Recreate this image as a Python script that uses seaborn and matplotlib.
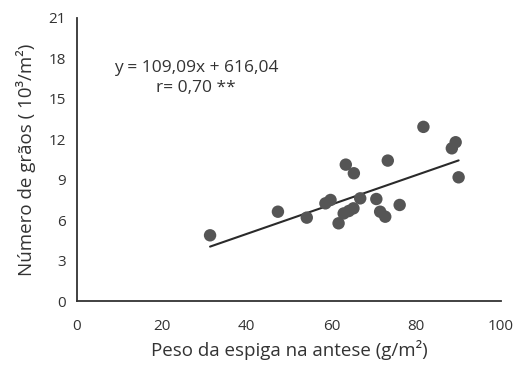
import matplotlib
matplotlib.use("Agg")
import matplotlib.pyplot as plt
import seaborn as sns
import numpy as np
import pandas as pd

peso = [31.4, 47.4, 54.2, 58.6, 59.8, 61.7, 62.9, 64.1, 65.2, 63.4, 65.3,
        66.8, 70.6, 71.5, 72.7, 73.3, 76.1, 81.7, 88.4, 89.3, 90.0]
graos = [4.88, 6.63, 6.19, 7.25, 7.5, 5.77, 6.5, 6.68, 6.88, 10.12, 9.48,
         7.62, 7.57, 6.63, 6.26, 10.42, 7.13, 12.92, 11.33, 11.78, 9.18]
slope, intercept = 109.09, 616.04  # grains/m2 per g/m2
xticks = [0, 20, 40, 60, 80, 100]
yticks = [0, 3, 6, 9, 12, 15, 18, 21]

sns.set_style("white")
plt.rcParams['font.family'] = ['Open Sans', 'DejaVu Sans']

df = pd.DataFrame({"peso": peso, "graos": graos})
xl = np.array([min(peso), max(peso)])
fit = pd.DataFrame({"x": xl, "y": (slope * xl + intercept) / 1000})

fig = plt.figure(figsize=(5.16, 3.65), dpi=100)
ax = fig.add_axes([0.149, 0.175, 0.822, 0.776])
sns.lineplot(data=fit, x="x", y="y", ax=ax, color="#2a2a2a", lw=1.5)
sns.scatterplot(data=df, x="peso", y="graos", ax=ax, s=80, color="#555555",
                edgecolor="none", zorder=3)

ax.set_xlim(0, 100)
ax.set_ylim(0, 21)
ax.set_xticks(xticks)
ax.set_yticks(yticks)
ax.set_xticklabels([str(v) for v in xticks], fontsize=11, color="#333333")
ax.set_yticklabels([str(v) for v in yticks], fontsize=11, color="#333333")
ax.tick_params(axis="x", direction="in", length=4, width=1.2, color="#333333", pad=13)
ax.tick_params(axis="y", direction="out", length=6, width=1.2, color="#333333", pad=2)
for s in ["top", "right"]:
    ax.spines[s].set_visible(False)
for s in ["left", "bottom"]:
    ax.spines[s].set_color("#333333")
    ax.spines[s].set_linewidth(1.3)

ax.set_xlabel("Peso da espiga na antese (g/m²)", fontsize=13.5, color="#333333", labelpad=4)
ax.set_ylabel("Número de grãos ( 10³/m²)", fontsize=13.5, color="#333333", labelpad=9)

ax.text(28.1, 17.3, "y = 109,09x + 616,04", ha="center", va="center",
        fontsize=12.5, color="#333333")
ax.text(28.1, 15.8, "r= 0,70 **", ha="center", va="center",
        fontsize=12.5, color="#333333")

fig.savefig("out.png", dpi=100)
